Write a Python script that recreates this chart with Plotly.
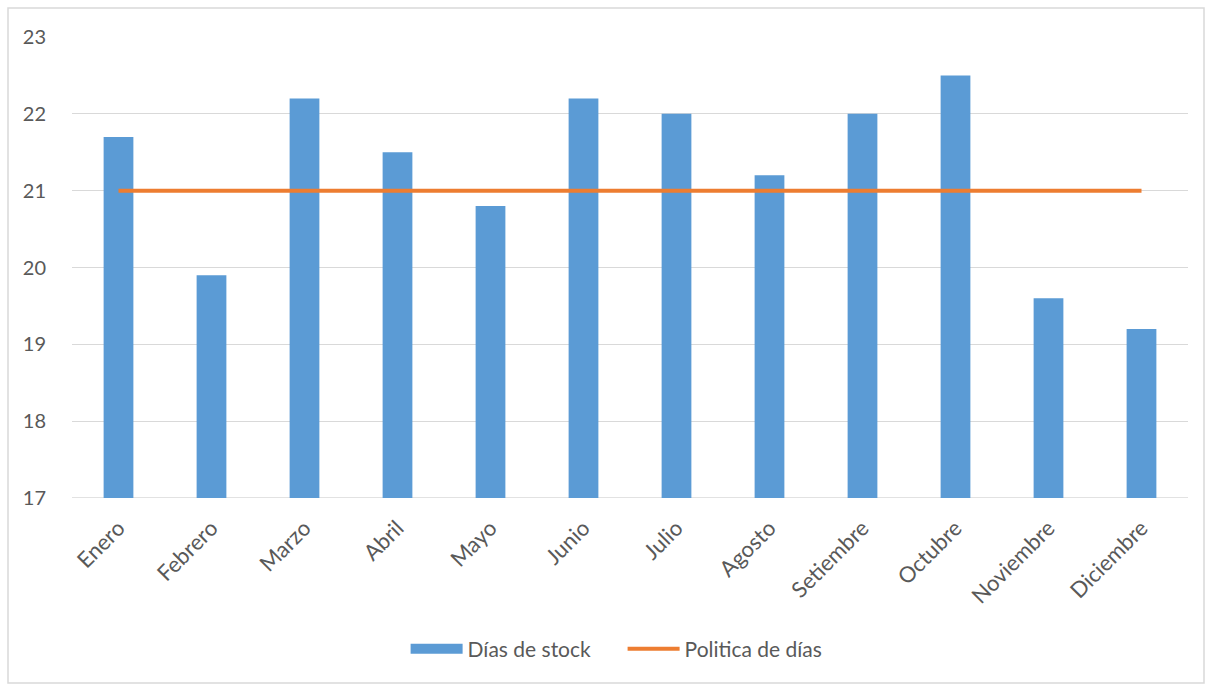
import plotly.graph_objects as go

meses = ["Enero", "Febrero", "Marzo", "Abril", "Mayo", "Junio", "Julio",
         "Agosto", "Setiembre", "Octubre", "Noviembre", "Diciembre"]
dias_stock = [21.7, 19.9, 22.2, 21.5, 20.8, 22.2, 22.0, 21.2, 22.0, 22.5, 19.6, 19.2]
politica = [21, 21, 21, 21, 21, 21, 21, 21, 21, 21, 21, 21]
base_y = 17

W, H = 1211, 684
L, R, T, B = 72, 23, 37, 186
pw, ph = W - L - R, H - T - B

fig = go.Figure()
fig.add_trace(go.Bar(x=meses, y=[v - base_y for v in dias_stock], base=base_y,
                     name="Días de stock", showlegend=False,
                     marker=dict(color="#5B9BD5", line=dict(width=0))))
# legend proxy for the bar series (wide rectangle symbol)
fig.add_trace(go.Scatter(x=[None], y=[None], name="Días de stock" + "\u00a0" * 5,
                         mode="lines", line=dict(color="#5B9BD5", width=13)))
fig.add_trace(go.Scatter(x=meses, y=politica, name="Politica de días", mode="lines",
                         line=dict(color="#ED7D31", width=4)))

font = "Lato, 'Open Sans', sans-serif"
fig.update_layout(
    width=W, height=H,
    margin=dict(l=L, r=R, t=T, b=B),
    paper_bgcolor="white", plot_bgcolor="white",
    bargap=0.68,
    font=dict(family=font, size=20, color="#595959"),
    showlegend=True,
    legend=dict(orientation="h", x=0.488, xanchor="center", y=(498 - 649) / ph,
                yanchor="middle", font=dict(size=21, color="#595959"),
                itemwidth=52, traceorder="normal", tracegroupgap=0),
    xaxis=dict(tickangle=-45, showgrid=False, showline=False, ticks="",
               tickfont=dict(size=22), ticklabelstandoff=12),
    yaxis=dict(range=[17, 23], dtick=1, showgrid=True, gridcolor="#D9D9D9",
               gridwidth=1, zeroline=False, showline=False, ticks="",
               tickfont=dict(size=20), ticklabelstandoff=25),
    shapes=[
        dict(type="rect", xref="paper", yref="paper",
             x0=(8 - L) / pw, x1=(1204 - L) / pw,
             y0=(498 - 683) / ph, y1=(498 - 8) / ph,
             line=dict(color="#D9D9D9", width=1.5), layer="below"),
        dict(type="line", xref="paper", yref="y", x0=0, x1=1, y0=17, y1=17,
             line=dict(color="#D9D9D9", width=1.5), layer="below"),
    ],
)
fig.write_html("out.html")
